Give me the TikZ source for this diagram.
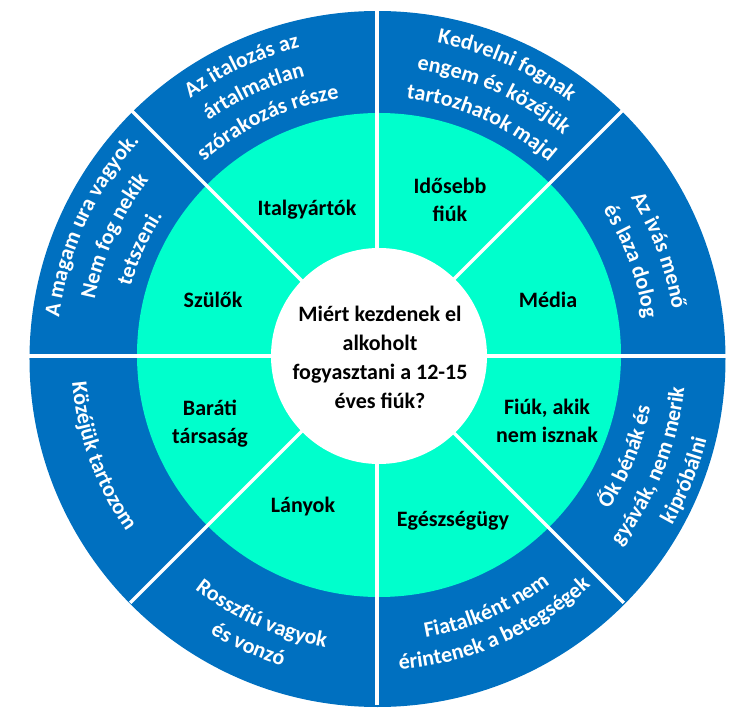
\documentclass[tikz,border=0pt]{standalone}
\usepackage{fontspec}
\setmainfont{Carlito}
\usetikzlibrary{decorations.text}
\definecolor{ringblue}{RGB}{0,112,192}
\definecolor{ringmint}{RGB}{0,255,204}
\newcommand\outerfont{\bfseries\fontsize{22}{26}\selectfont}
% clockwise arc text (upper half, letter tops outward)
\newcommand\cwtext[3]{\path[decorate,decoration={text along path,text align=center,text color=white,text={|\outerfont|#3}}] (#2+40:#1) arc[start angle=#2+40,end angle=#2-40,radius=#1];}
% counter-clockwise arc text (lower half, letter tops toward centre)
\newcommand\ccwtext[3]{\path[decorate,decoration={text along path,text align=center,text color=white,text={|\outerfont|#3}}] (#2-40:#1) arc[start angle=#2-40,end angle=#2+40,radius=#1];}
\tikzset{
  innerlabel/.style={align=center,text=black,font=\bfseries\fontsize{22}{28}\selectfont},
  divider/.style={white,line width=3.5pt}
}
\begin{document}
\begin{tikzpicture}[x=1pt,y=1pt]
\useasboundingbox (-377,-372) rectangle (373,356);
% rings
\fill[ringblue] (0.5,-3) circle (348);
\fill[ringmint] (2,1) circle (242);
% dividers
\foreach \a in {0,45,...,315}{\draw[divider] (0,0) -- (\a:349);}
% centre
\fill[white] (2,0) circle (108);
\node[innerlabel,font=\bfseries\fontsize{22}{29}\selectfont] (q) at (3,-1) {Miért kezdenek el\\alkoholt\\fogyasztani a 12-15\\éves fiúk?};
% inner ring labels
\node[innerlabel] (italgy) at (-70,146) {Italgyártók};
\node[innerlabel] (idosebb) at (73,156) {Idősebb\\fiúk};
\node[innerlabel] (media) at (171,56) {Média};
\node[innerlabel] (szulok) at (-164,56) {Szülők};
\node[innerlabel] (barati) at (-167,-68) {Baráti\\társaság};
\node[innerlabel] (lanyok) at (-74,-151) {Lányok};
\node[innerlabel] (nemisz) at (170,-65) {Fiúk, akik\\nem isznak};
\node[innerlabel] (egeszs) at (76,-165) {Egészségügy};
% outer ring texts
\cwtext{318}{115}{Az italozás az}
\cwtext{289}{115}{ártalmatlan}
\cwtext{260}{115}{szórakozás része}
\cwtext{319}{66}{Kedvelni fognak}
\cwtext{289}{66}{engem és közéjük}
\cwtext{259}{66}{tartozhatok majd}
\cwtext{299}{20.5}{Az ivás menő}
\cwtext{269}{20.5}{és laza dolog}
\cwtext{320}{155.5}{A magam ura vagyok.}
\cwtext{288}{155.5}{Nem fog nekik}
\cwtext{256}{155.5}{tetszeni.}
\ccwtext{278}{-22}{Ők bénák és}
\ccwtext{309}{-22}{gyávák, nem merik}
\ccwtext{340}{-22}{kipróbálni}
\ccwtext{286}{-66.5}{Fiatalként nem}
\ccwtext{314}{-66.5}{érintenek a betegségek}
\ccwtext{296}{-114}{Rosszfiú vagyok}
\ccwtext{324}{-114}{és vonzó}
\ccwtext{306}{-160}{Közéjük tartozom}
\end{tikzpicture}
\end{document}
